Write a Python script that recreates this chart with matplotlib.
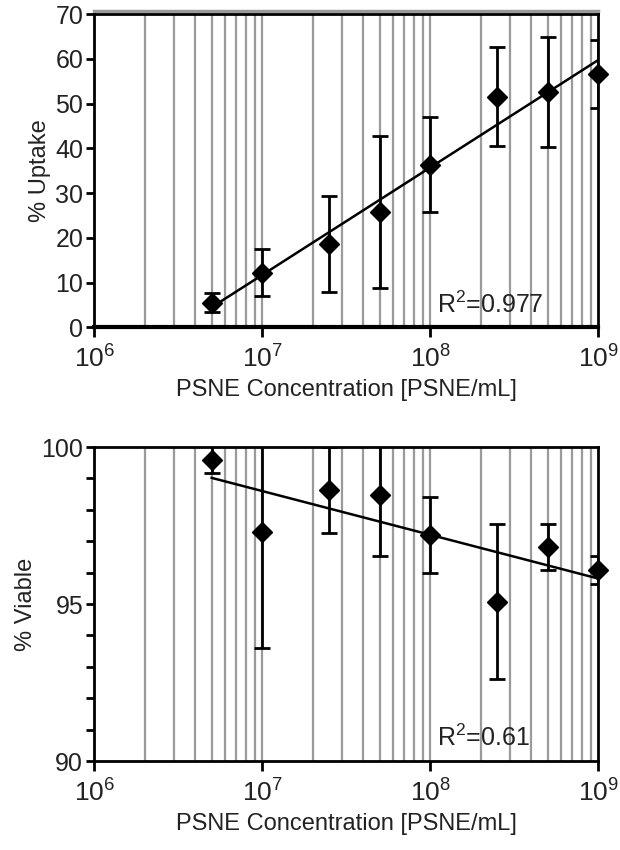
import numpy as np
import matplotlib
matplotlib.use('Agg')
import matplotlib.pyplot as plt
from matplotlib import transforms
from matplotlib.ticker import FixedLocator, FixedFormatter, MultipleLocator, NullFormatter

plt.rcParams['font.family'] = ['Liberation Sans', 'DejaVu Sans']
plt.rcParams['mathtext.fontset'] = 'custom'
plt.rcParams['mathtext.rm'] = 'Liberation Sans'
plt.rcParams['mathtext.it'] = 'Liberation Sans:italic'

# concentrations [PSNE/mL]
conc = [5e6, 1e7, 2.5e7, 5e7, 1e8, 2.5e8, 5e8, 1e9]
# uptake (%) and error
uptake = [5.5, 12.2, 18.6, 25.8, 36.3, 51.5, 52.5, 56.7]
uptake_err = [2.2, 5.2, 10.7, 17.0, 10.6, 11.1, 12.3, 7.6]
# viability (%) and error
viable = [99.6, 97.3, 98.63, 98.47, 97.2, 95.08, 96.83, 96.08]
viable_err = [0.42, 3.7, 1.37, 1.94, 1.2, 2.48, 0.73, 0.44]

r2_uptake = 'R$^2$=0.977'
r2_viable = 'R$^2$=0.61'
xtick_vals = [1e6, 1e7, 1e8, 1e9]
xtick_labels = ['10$^{6}$', '10$^{7}$', '10$^{8}$', '10$^{9}$']
xlab = 'PSNE Concentration [PSNE/mL]'

txt = '#222222'
grid_c = '#9a9a9a'

fig = plt.figure(figsize=(6.2, 8.5), dpi=100)
ax1 = fig.add_axes([0.152, 0.615, 0.813, 0.3685])
ax2 = fig.add_axes([0.152, 0.1047, 0.813, 0.3693])

def style(ax, y, err, ylim, label, r2, r2y):
    ax.set_xscale('log')
    ax.set_xlim(1e6, 1e9)
    ax.set_ylim(*ylim)
    # grid lines at 1..9 x 10^n
    grid_pos = [m * 10.0 ** e for e in range(6, 9) for m in range(1, 10)][1:]
    for g in grid_pos:
        ax.axvline(g, color=grid_c, lw=1.6, zorder=0)
    ax.errorbar(conc, y, yerr=err, fmt='none', ecolor='black', elinewidth=2,
                capsize=6, capthick=2, zorder=3, clip_on=True)
    ax.plot(conc, y, 'D', color='black', ms=10, zorder=4, clip_on=False)
    lx = np.log10(conc)
    k, b = np.polyfit(lx, y, 1)
    xs = np.array([lx[0], lx[-1]])
    ax.plot(10 ** xs, k * xs + b, color='black', lw=1.8, zorder=3)
    ax.text(1.1e8, r2y, r2, fontsize=18, color=txt, va='center', ha='left', zorder=5)
    ax.xaxis.set_major_locator(FixedLocator(xtick_vals))
    ax.xaxis.set_major_formatter(FixedFormatter(xtick_labels))
    ax.xaxis.set_minor_locator(FixedLocator([]))
    ax.xaxis.set_minor_formatter(NullFormatter())
    ax.tick_params(axis='x', which='major', direction='out', length=7, width=2,
                   labelsize=19, labelcolor=txt, pad=6)
    ax.tick_params(axis='y', which='both', direction='out', length=6, width=2,
                   labelsize=18, labelcolor=txt, pad=2)
    for s in ax.spines.values():
        s.set_color('black')
        s.set_linewidth(2)
    ax.set_xlabel(xlab, fontsize=17, color=txt, labelpad=5)
    ax.set_ylabel(label, fontsize=17, color=txt, labelpad=3)

style(ax1, uptake, uptake_err, (0, 70), '% Uptake', r2_uptake, 5.0)
ax1.yaxis.set_major_locator(MultipleLocator(10))
ax1.spines['bottom'].set_linewidth(3)
# gray band above top spine
off = transforms.offset_copy(ax1.transAxes, fig=fig, x=0, y=2.2, units='points')
ax1.plot([0, 1], [1, 1], transform=off, color=grid_c, lw=2.5, clip_on=False, zorder=1)

style(ax2, viable, viable_err, (90, 100), '% Viable', r2_viable, 90.75)
ax2.yaxis.set_major_locator(MultipleLocator(5))
ax2.yaxis.set_minor_locator(MultipleLocator(1))

fig.savefig('out.png', dpi=100)
